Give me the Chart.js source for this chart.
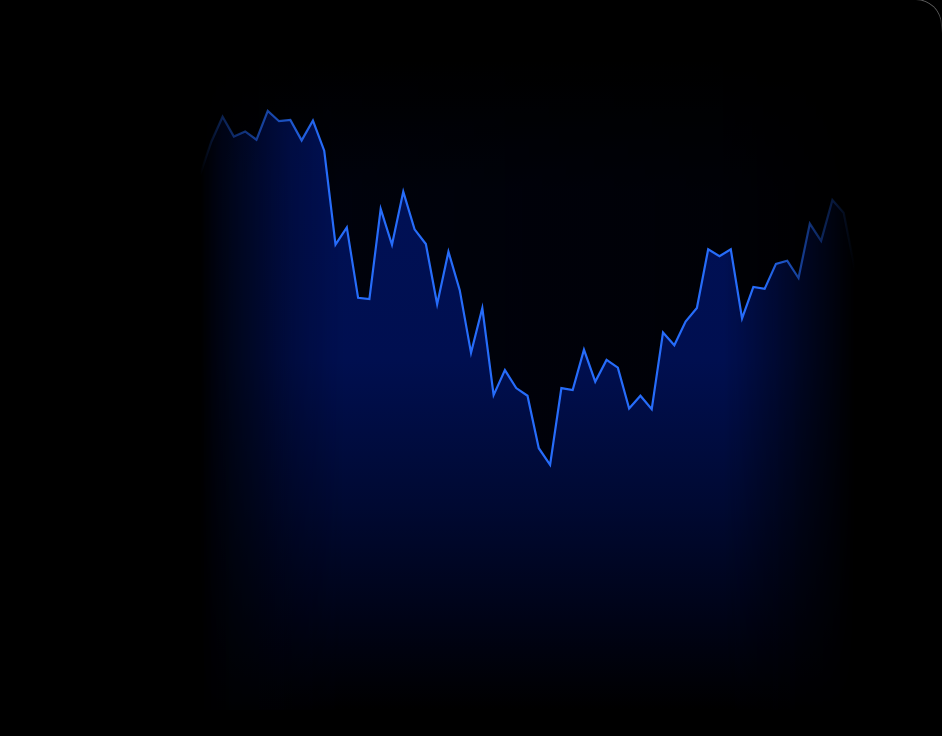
<!DOCTYPE html>
<html>
<head>
<meta charset="utf-8">
<script src="https://cdn.jsdelivr.net/npm/chart.js@4"></script>
<style>
  html, body { margin: 0; padding: 0; background: #000; overflow: hidden; }
  #wrap { position: relative; width: 942px; height: 736px; }
  #corner {
    position: absolute; top: -1px; right: 0; width: 120px; height: 60px;
    border-top: 1px solid rgba(255,255,255,0.35);
    border-right: 1px solid rgba(255,255,255,0.35);
    border-top-right-radius: 26px;
    -webkit-mask-image: linear-gradient(to bottom, #000 0px, #000 14px, transparent 34px);
    mask-image: linear-gradient(to bottom, #000 0px, #000 14px, transparent 34px);
  }
</style>
</head>
<body>
<div id="wrap">
  <canvas id="price-chart" width="942" height="736"></canvas>
  <div id="corner"></div>
</div>
<script>
// one point per session, axes are hidden
var labels = ["1","2","3","4","5","6","7","8","9","10","11","12","13","14","15","16","17","18","19","20",
  "21","22","23","24","25","26","27","28","29","30","31","32","33","34","35","36","37","38","39","40",
  "41","42","43","44","45","46","47","48","49","50","51","52","53","54","55","56","57","58","59"];
var prices = [83.6, 88.8, 92.7, 89.6, 90.4, 89.1, 93.6, 92.0, 92.2, 89.0,
  92.1, 87.4, 72.7, 75.4, 64.4, 64.2, 78.3, 72.7, 81.0, 75.1,
  72.8, 63.4, 71.6, 65.6, 55.8, 62.8, 49.2, 53.1, 50.3, 49.1,
  40.9, 38.3, 50.3, 50.0, 56.3, 51.3, 54.7, 53.5, 47.1, 49.1,
  47.0, 59.0, 57.0, 60.7, 62.8, 72.0, 70.9, 72.0, 61.2, 66.1,
  65.8, 69.7, 70.2, 67.5, 76.0, 73.3, 79.7, 77.7, 68.8];
var yMin = 0;
var yMax = 100;

// left/right fade used by fill, haze and line
function sideMask(c, area, alpha) {
  const h = c.createLinearGradient(area.left, 0, area.right, 0)
  h.addColorStop(0, "rgba(0,0,0,0)")
  h.addColorStop(0.03, "rgba(0,0,0," + 0.2 * alpha + ")")
  h.addColorStop(0.08, "rgba(0,0,0," + 0.45 * alpha + ")")
  h.addColorStop(0.14, "rgba(0,0,0," + 0.75 * alpha + ")")
  h.addColorStop(0.22, "rgba(0,0,0," + alpha + ")")
  h.addColorStop(0.8, "rgba(0,0,0," + alpha + ")")
  h.addColorStop(0.88, "rgba(0,0,0," + 0.6 * alpha + ")")
  h.addColorStop(0.95, "rgba(0,0,0," + 0.25 * alpha + ")")
  h.addColorStop(1, "rgba(0,0,0,0)")
  return h
}

let fillCache = null
function buildLayers(chart) {
  const area = chart.chartArea
  const key = area.left + "," + area.right + "," + area.top + "," + area.bottom
  if (fillCache && fillCache.key === key) return fillCache
  const sx = chart.canvas.width / chart.width
  const w = area.right - area.left
  const hgt = area.bottom - area.top

  // fill under the line
  const off = document.createElement("canvas")
  off.width = chart.canvas.width
  off.height = chart.canvas.height
  const o = off.getContext("2d")
  o.scale(sx, sx)
  const v = o.createLinearGradient(0, area.top, 0, area.bottom)
  v.addColorStop(0, "rgba(0,17,88,1)")
  v.addColorStop(0.45, "rgba(0,15,80,1)")
  v.addColorStop(0.68, "rgba(0,9,50,1)")
  v.addColorStop(0.86, "rgba(0,3,22,1)")
  v.addColorStop(1, "rgba(0,0,0,1)")
  o.fillStyle = v
  o.fillRect(area.left, area.top, w, hgt)
  o.globalCompositeOperation = "destination-in"
  o.fillStyle = sideMask(o, area, 1)
  o.fillRect(area.left, area.top, w, hgt)

  // haze above the line, fades in from the top, stronger on the left
  const hz = document.createElement("canvas")
  hz.width = chart.canvas.width
  hz.height = chart.canvas.height
  const z = hz.getContext("2d")
  z.scale(sx, sx)
  const zv = z.createLinearGradient(0, area.top - 10, 0, area.top + 120)
  zv.addColorStop(0, "rgba(0,14,80,0)")
  zv.addColorStop(1, "rgba(0,14,80,0.16)")
  z.fillStyle = zv
  z.fillRect(area.left, area.top - 10, w, hgt + 10)
  z.globalCompositeOperation = "destination-in"
  z.fillStyle = sideMask(z, area, 1)
  z.fillRect(area.left, area.top - 10, w, hgt + 10)
  const zr = z.createLinearGradient(area.left, 0, area.right, 0)
  zr.addColorStop(0, "rgba(0,0,0,1)")
  zr.addColorStop(0.4, "rgba(0,0,0,0.8)")
  zr.addColorStop(1, "rgba(0,0,0,0.35)")
  z.fillStyle = zr
  z.fillRect(area.left, area.top - 10, w, hgt + 10)

  fillCache = { key: key, pattern: chart.ctx.createPattern(off, "no-repeat"), haze: hz }
  return fillCache
}

function areaFill(ctx) {
  if (!ctx.chart.chartArea) return "rgba(0,15,80,0.6)"
  return buildLayers(ctx.chart).pattern
}

function lineColor(ctx) {
  const area = ctx.chart.chartArea
  if (!area) return "rgb(38,108,250)"
  const g = ctx.chart.ctx.createLinearGradient(area.left, 0, area.right, 0)
  g.addColorStop(0, "rgba(38,108,250,0)")
  g.addColorStop(0.035, "rgba(38,108,250,0.3)")
  g.addColorStop(0.1, "rgba(38,108,250,0.6)")
  g.addColorStop(0.19, "rgba(38,108,250,1)")
  g.addColorStop(0.86, "rgba(38,108,250,1)")
  g.addColorStop(0.93, "rgba(38,108,250,0.45)")
  g.addColorStop(1, "rgba(38,108,250,0)")
  return g
}

const haze = {
  id: "haze",
  beforeDatasetsDraw(chart) {
    if (!chart.chartArea) return
    const layers = buildLayers(chart)
    const c = chart.ctx
    c.save()
    c.setTransform(1, 0, 0, 1, 0, 0)
    c.drawImage(layers.haze, 0, 0)
    c.restore()
  }
}

new Chart("price-chart", {
  type: "line",
  data: {
    labels: labels,
    datasets: [{
      data: prices,
      borderColor: lineColor,
      backgroundColor: areaFill,
      borderWidth: 2.2,
      fill: "start",
      tension: 0,
      pointRadius: 0,
      pointHoverRadius: 0
    }]
  },
  options: {
    responsive: false,
    animation: false,
    layout: { padding: { left: 200, right: 87, top: 70, bottom: 26 } },
    plugins: { legend: { display: false }, tooltip: { enabled: false } },
    scales: {
      x: { display: false },
      y: { display: false, min: yMin, max: yMax }
    }
  },
  plugins: [haze]
});
</script>
</body>
</html>
